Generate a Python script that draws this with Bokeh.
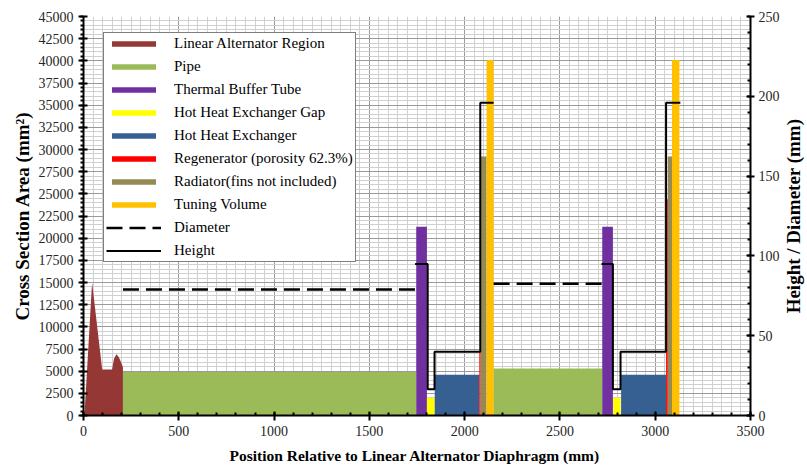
from bokeh.plotting import figure
from bokeh.layouts import row
from bokeh.models import (Range1d, LinearAxis, SingleIntervalTicker, Legend, LegendItem,
                          ColumnDataSource, NumeralTickFormatter)
from bokeh.core.properties import value
from bokeh.embed import file_html
from bokeh.resources import INLINE

# ---------------- data ----------------
alt_pos = [5, 45, 98, 150, 160, 173, 185, 197, 207]
alt_area = [0, 15000, 5200, 5200, 6400, 6900, 6600, 6000, 5450]

pipe_left = [207, 2152]
pipe_right = [1746, 2722]
pipe_area = [4900, 5300]

tbt_left = [1746, 2722]
tbt_right = [1802, 2778]
tbt_area = [21300, 21300]

gap_left = [1802, 2780]
gap_right = [1843, 2818]
gap_area = [2000, 2000]

hhx_left = [1843, 2821]
hhx_right = [2077, 3057]
hhx_area = [4600, 4600]

regen_left = [2077, 3057]
regen_right = [2084, 3066]
regen_area = [7200, 24400]

rad_left = [2084, 3066]
rad_right = [2115, 3088]
rad_area = [29200, 29200]

tune_left = [2115, 3088]
tune_right = [2152, 3127]
tune_area = [40100, 40100]

dia_start = [207, 2152]
dia_end = [1746, 2722]
dia_value = [79, 82.5]

height1_edges = [1740, 1806, 1842, 2082, 2152]
height1_values = [95, 16.5, 40, 196]
height2_edges = [2718, 2778, 2818, 3057, 3132]
height2_values = [95, 16.5, 40, 196]

x_ticks_interval = 500
y_ticks_interval = 2500
r_ticks_interval = 50
x_max, y_max, r_max = 3500, 45000, 250

SERIF = "Liberation Serif"

# ---------------- figure ----------------
p = figure(width=782, height=467,
           x_range=Range1d(0, x_max), y_range=Range1d(0, y_max),
           output_backend="svg", toolbar_location=None,
           min_border_left=83, min_border_right=30, min_border_top=16, min_border_bottom=52)
p.extra_y_ranges = {"r": Range1d(0, r_max)}
p.outline_line_color = None
p.background_fill_color = "white"

# grids
p.xgrid.ticker = SingleIntervalTicker(interval=x_ticks_interval, num_minor_ticks=10)
p.ygrid.ticker = SingleIntervalTicker(interval=y_ticks_interval, num_minor_ticks=5)
for g in (p.xgrid, p.ygrid):
    g.grid_line_color = "#9a9a9a"
    g.grid_line_width = 1
    g.minor_grid_line_color = "#d0d0d0"
    g.minor_grid_line_width = 1

# axes
p.xaxis.ticker = SingleIntervalTicker(interval=x_ticks_interval, num_minor_ticks=5)
p.yaxis.ticker = SingleIntervalTicker(interval=y_ticks_interval, num_minor_ticks=5)
p.xaxis.formatter = NumeralTickFormatter(format="0")
p.yaxis.formatter = NumeralTickFormatter(format="0")
p.xaxis.axis_label = "Position Relative to Linear Alternator Diaphragm  (mm)"
p.yaxis.axis_label = "Cross Section Area (mm²)"

raxis = LinearAxis(y_range_name="r",
                   ticker=SingleIntervalTicker(interval=r_ticks_interval, num_minor_ticks=5))
p.add_layout(raxis, "right")

for ax in (p.xaxis[0], p.yaxis[0], raxis):
    ax.axis_line_color = "black"
    ax.axis_line_width = 2
    ax.major_tick_line_color = "black"
    ax.major_tick_line_width = 2
    ax.minor_tick_line_color = "black"
    ax.minor_tick_line_width = 2
    ax.major_tick_in = 4
    ax.major_tick_out = 5
    ax.minor_tick_in = 3
    ax.minor_tick_out = 0
    ax.major_label_text_font = SERIF
    ax.major_label_text_font_size = "14px"
    ax.major_label_text_color = "#262626"
    ax.major_label_standoff = 5
    ax.axis_label_text_font = SERIF
    ax.axis_label_text_font_size = "19px"
    ax.axis_label_text_font_style = "bold"
    ax.axis_label_text_color = "black"
    ax.axis_label_standoff = 3

p.yaxis[0].minor_tick_in = 0
p.yaxis[0].minor_tick_out = 3
p.xaxis[0].axis_label_text_font_size = "15.5px"
p.xaxis[0].axis_label_standoff = 8
raxis.major_tick_out = 4
raxis.major_label_standoff = 4

# ---------------- glyphs ----------------
def blocks(left, right, area, color):
    src = ColumnDataSource(dict(left=left, right=right, top=area, bottom=[0] * len(area)))
    return p.quad(left="left", right="right", top="top", bottom="bottom", source=src,
                  fill_color=color, line_color=None)

r_alt = p.patch(alt_pos + [alt_pos[-1]], alt_area + [0], fill_color="#953735", line_color=None)
r_pipe = blocks(pipe_left, pipe_right, pipe_area, "#9BBB59")
r_tbt = blocks(tbt_left, tbt_right, tbt_area, "#7030A0")
r_gap = blocks(gap_left, gap_right, gap_area, "#FFFF00")
r_hhx = blocks(hhx_left, hhx_right, hhx_area, "#376092")
r_regen = blocks(regen_left, regen_right, regen_area, "#FF0000")
r_rad = blocks(rad_left, rad_right, rad_area, "#948A54")
r_tune = blocks(tune_left, tune_right, tune_area, "#FFC000")

dia_src = ColumnDataSource(dict(xs=[[a, b] for a, b in zip(dia_start, dia_end)],
                                ys=[[v, v] for v in dia_value]))
r_dia = p.multi_line(xs="xs", ys="ys", source=dia_src, y_range_name="r",
                     line_color="black", line_width=2.5, line_dash="16 7")

def step(edges, values):
    xs, ys = [], []
    for i, v in enumerate(values):
        xs += [edges[i], edges[i + 1]]
        ys += [v, v]
    return xs, ys

h1x, h1y = step(height1_edges, height1_values)
h2x, h2y = step(height2_edges, height2_values)
h_src = ColumnDataSource(dict(xs=[h1x, h2x], ys=[h1y, h2y]))
r_h = p.multi_line(xs="xs", ys="ys", source=h_src, y_range_name="r",
                   line_color="black", line_width=2)

legend = Legend(items=[
    LegendItem(label="Linear Alternator Region", renderers=[r_alt]),
    LegendItem(label="Pipe", renderers=[r_pipe]),
    LegendItem(label="Thermal Buffer Tube", renderers=[r_tbt]),
    LegendItem(label="Hot Heat Exchanger Gap", renderers=[r_gap]),
    LegendItem(label="Hot Heat Exchanger", renderers=[r_hhx]),
    LegendItem(label="Regenerator (porosity 62.3%)", renderers=[r_regen]),
    LegendItem(label="Radiator(fins not included)", renderers=[r_rad]),
    LegendItem(label="Tuning Volume", renderers=[r_tune]),
    LegendItem(label="Diameter", renderers=[r_dia]),
    LegendItem(label="Height", renderers=[r_h]),
], location=(20, 153))
legend.border_line_color = "black"
legend.border_line_width = 1
legend.background_fill_color = "white"
legend.background_fill_alpha = 1
legend.padding = 2
legend.margin = 0
legend.spacing = 6
legend.label_height = 17
legend.glyph_height = 7
legend.glyph_width = 55
legend.label_standoff = 13
legend.label_text_font = SERIF
legend.label_text_font_size = "15px"
legend.label_text_color = "black"
p.add_layout(legend)

# ---------------- right-hand axis title (reads bottom-to-top) ----------------
t = figure(width=25, height=467, x_range=Range1d(0, 1), y_range=Range1d(0, r_max),
           output_backend="svg", toolbar_location=None,
           min_border_left=0, min_border_right=0, min_border_top=16, min_border_bottom=52)
t.axis.visible = False
t.grid.visible = False
t.outline_line_color = None
t.text(x=[0.45], y=[r_max / 2], text=["Height / Diameter (mm)"], angle=90, angle_units="deg",
       text_align="center", text_baseline="middle", text_font=value(SERIF),
       text_font_size="19px", text_font_style="bold", text_color="black")

layout = row(p, t, spacing=0)
open("out.html", "w").write(file_html(layout, INLINE))
